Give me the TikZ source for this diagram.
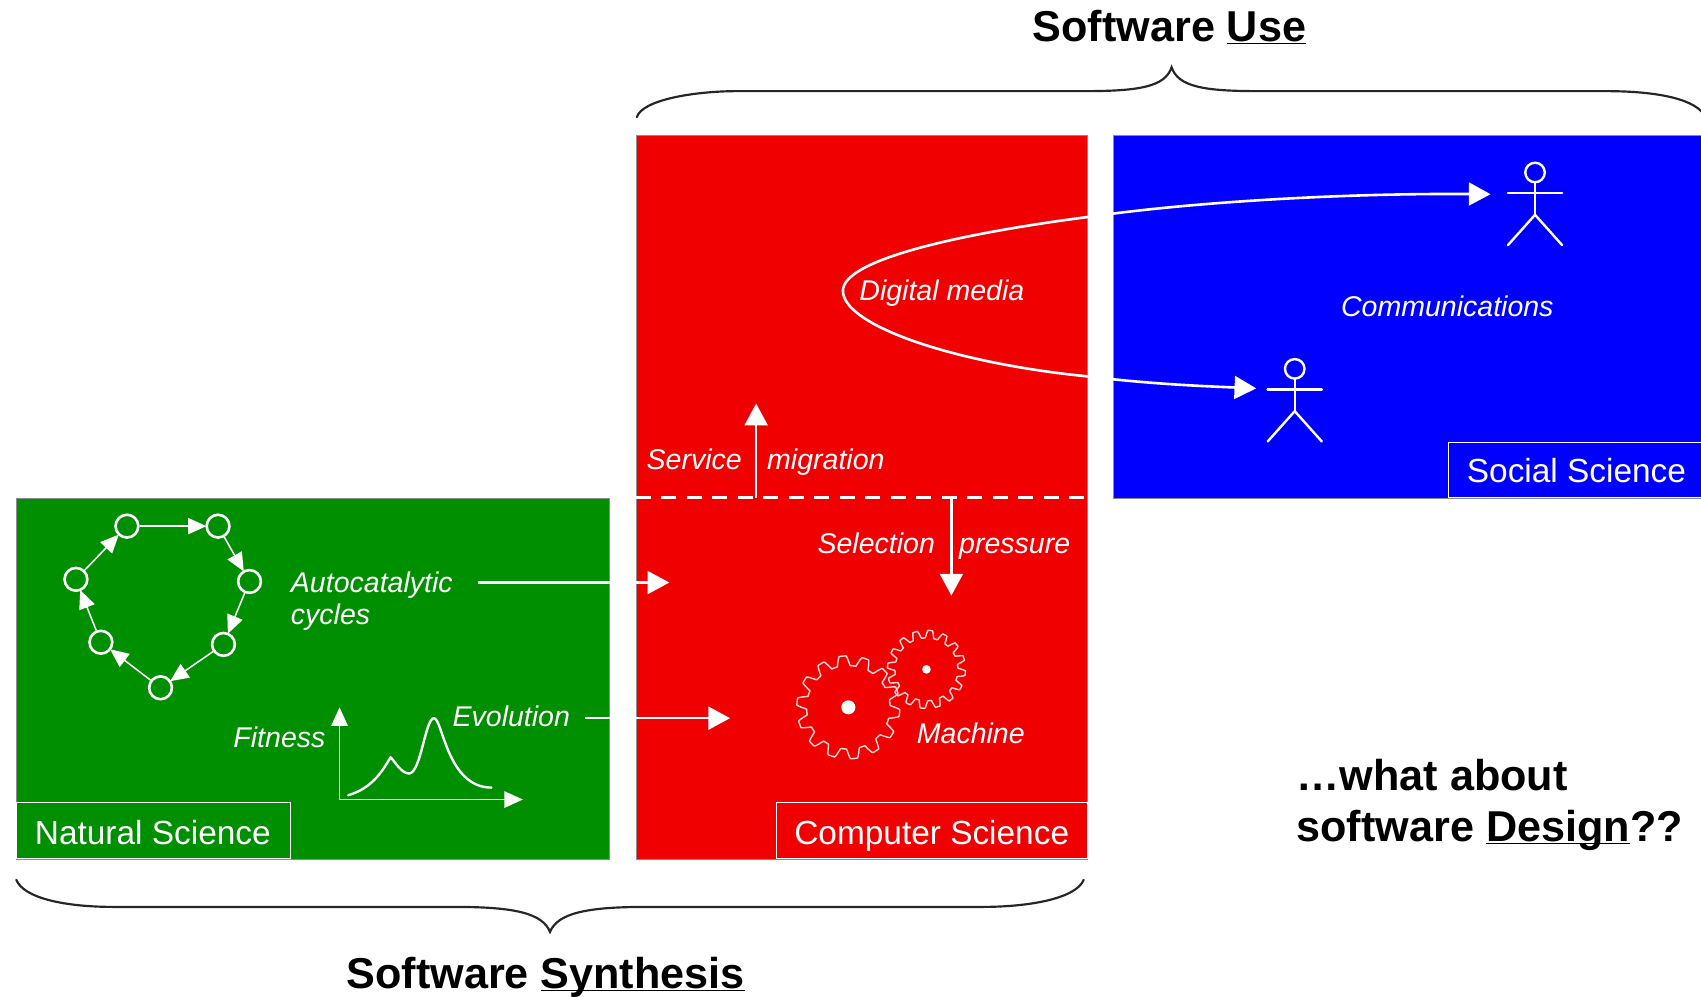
\documentclass[tikz,border=0pt]{standalone}
\usepackage{fontspec}
\setmainfont{Liberation Sans}
\usetikzlibrary{arrows.meta}
\definecolor{natgreen}{RGB}{0,143,0}
\definecolor{comred}{RGB}{240,0,0}
\definecolor{socblue}{RGB}{0,0,255}
\newcommand{\ul}[1]{\underline{\smash{#1}}}
\tikzset{
  panel/.style={rectangle,anchor=north west,inner sep=0pt,draw=black!45,line width=.7pt},
  tagbox/.style={rectangle,inner sep=0pt,draw=white,line width=1pt,text=white,anchor=south west},
  tagtext/.style={text=white,inner sep=0pt,anchor=base west,font=\fontsize{30.8}{34}\selectfont},
  lab/.style={text=white,inner sep=0pt,anchor=base west,font=\fontsize{26.3}{30}\selectfont\itshape},
  head/.style={text=black,inner sep=0pt,anchor=base,font=\fontsize{39.8}{44}\selectfont\bfseries},
  bigarrow/.style={draw=white,line width=2.4pt,-{Triangle[length=20pt,width=21pt,fill=white]}},
  thinarrow/.style={draw=white,line width=1.6pt,-{Triangle[length=17pt,width=15pt,fill=white]}},
  cyc/.style={circle,draw=white,line width=2.4pt,minimum size=21pt,inner sep=0pt},
  cycarrow/.style={draw=white,line width=1.4pt,shorten >=-1pt,-{Triangle[length=17pt,width=15pt,fill=white]}},
  wline/.style={draw=white,line width=2.2pt,line cap=round,line join=round},
  brace/.style={draw=black!85,line width=2pt,line cap=round},
  gearline/.style={draw=white!85!comred,line width=1.3pt,line join=round}
}
\newcommand{\gearshape}[5]{% cx cy radius amplitude teeth
  \draw[gearline] plot[domain=0:360,samples=481] ({#1+(#3+#4*max(-1,min(1,1.8*sin(#5*\x))))*cos(\x)},{#2+(#3+#4*max(-1,min(1,1.8*sin(#5*\x))))*sin(\x)}) -- cycle;
}
\newcommand{\actor}[3]{% name headx heady
  \node[circle,draw=white,line width=2.2pt,minimum size=18pt,inner sep=0pt] (#1head) at (#2,#3) {};
  \coordinate (#1hip) at (#2,#3+39);
  \coordinate (#1la) at (#2-25,#3+19);
  \coordinate (#1ra) at (#2+25,#3+19);
  \coordinate (#1lf) at (#2-25,#3+67);
  \coordinate (#1rf) at (#2+25,#3+67);
  \draw[wline] (#1head) -- (#1hip);
  \draw[wline] (#1la) -- (#1ra);
  \draw[wline] (#1lf) -- (#1hip) -- (#1rf);
}
\begin{document}
\begin{tikzpicture}[x=1pt,y=-1pt]
\useasboundingbox (0,0) rectangle (1568,919);
\clip (0,0) rectangle (1568,919);
\fill[white] (0,0) rectangle (1568,919);
% panels
\node[panel,fill=natgreen,minimum width=546pt,minimum height=333pt] (nat) at (15,459) {};
\node[panel,fill=comred,minimum width=416pt,minimum height=668pt] (com) at (586,124) {};
\node[panel,fill=socblue,minimum width=560pt,minimum height=335pt] (soc) at (1026,124) {};
% tag boxes
\node[tagbox,minimum width=252pt,minimum height=52pt] (natbox) at (15,792) {};
\node[tagbox,minimum width=287pt,minimum height=52pt] (combox) at (715,792) {};
\node[tagbox,minimum width=260pt,minimum height=51pt] (socbox) at (1335,459) {};
\node[tagtext] (natlab) at (32,778) {Natural Science};
\node[tagtext] (comlab) at (732,778) {Computer Science};
\node[tagtext] (soclab) at (1352,445) {Social Science};
% dashed separator
\coordinate (dl) at (586,459);
\coordinate (dr) at (1002,459);
\draw[draw=white,line width=2.8pt,dash pattern=on 14pt off 9.5pt] (dl) -- (dr);
% cycle
\node[cyc] (c1) at (117,485) {};
\node[cyc] (c2) at (201,485) {};
\node[cyc] (c3) at (230,536) {};
\node[cyc] (c4) at (206,594) {};
\node[cyc] (c5) at (148,634) {};
\node[cyc] (c6) at (93,592) {};
\node[cyc] (c7) at (70,534) {};
\draw[cycarrow] (c1) -- (c2);
\draw[cycarrow] (c2) -- (c3);
\draw[cycarrow] (c3) -- (c4);
\draw[cycarrow] (c4) -- (c5);
\draw[cycarrow] (c5) -- (c6);
\draw[cycarrow] (c6) -- (c7);
\draw[cycarrow] (c7) -- (c1);
% labels
\node[lab] (auto) at (268,546) {Autocatalytic};
\node[lab] (cycl) at (268,576) {cycles};
\node[lab] (fit) at (215,689) {Fitness};
\node[lab] (evo) at (417,670) {Evolution};
\node[lab] (mach) at (845,685) {Machine};
\node[lab,anchor=base east] (serv) at (684,433) {Service};
\node[lab] (migr) at (707,433) {migration};
\node[lab,anchor=base east] (sele) at (862,510) {Selection};
\node[lab] (pres) at (884,510) {pressure};
\node[lab] (digi) at (792,277) {Digital media};
\node[lab] (comm) at (1236,292) {Communications};
% fitness plot
\coordinate (org) at (313,737);
\coordinate (yt) at (313,652);
\coordinate (xt) at (482,737);
\draw[thinarrow] (org) -- (yt);
\draw[thinarrow] (org) -- (xt);
\coordinate (fs) at (321,733);
\coordinate (fe) at (453,726);
\draw[wline] (fs) .. controls (342,727) and (352,712) .. (360,698)
  .. controls (364,702) and (370,713) .. (377,713)
  .. controls (388,713) and (392,662) .. (400,662)
  .. controls (408,662) and (412,726) .. (fe);
% horizontal flows
\coordinate (a1) at (441,537);
\coordinate (a2) at (617,537);
\draw[bigarrow] (a1) -- (a2);
\coordinate (e1) at (539,662);
\coordinate (e2) at (673,662);
\draw[bigarrow] (e1) -- (e2);
% service and selection
\coordinate (s1) at (697,459);
\coordinate (s2) at (697,372);
\draw[bigarrow] (s1) -- (s2);
\coordinate (p1) at (877,459);
\coordinate (p2) at (877,549);
\draw[bigarrow] (p1) -- (p2);
% digital media curve
\coordinate (d1) at (1374,179);
\coordinate (d2) at (1158,358);
\draw[draw=white,line width=2.4pt,{Triangle[length=20pt,width=21pt,fill=white]}-{Triangle[length=20pt,width=21pt,fill=white]}]
  (d1) .. controls (1240,178) and (1100,186) .. (1003,200)
  .. controls (880,216) and (777,240) .. (777,268)
  .. controls (777,300) and (880,335) .. (1003,347)
  .. controls (1060,354) and (1110,356) .. (d2);
% actors
\actor{up}{1415}{159}
\actor{lo}{1193.5}{340}
% gears
\gearshape{782}{652}{43}{4.5}{14}
\gearshape{854}{617}{32.5}{3.5}{16}
\node[circle,fill=white,minimum size=13pt,inner sep=0pt] (hub1) at (782,652) {};
\node[circle,fill=white,minimum size=8pt,inner sep=0pt] (hub2) at (854,617) {};
% braces
\coordinate (bt1) at (587,108);
\coordinate (btt) at (1080,62);
\coordinate (bt2) at (1572,108);
\draw[brace] (bt1) .. controls (592,92) and (640,84) .. (680,84) -- (1000,84)
  .. controls (1050,84) and (1074,80) .. (btt)
  .. controls (1086,80) and (1110,84) .. (1160,84) -- (1480,84)
  .. controls (1530,84) and (1565,92) .. (bt2);
\coordinate (bb1) at (15,811);
\coordinate (bbt) at (507,859);
\coordinate (bb2) at (999,811);
\draw[brace] (bb1) .. controls (22,828) and (60,836) .. (105,836) -- (420,836)
  .. controls (475,836) and (500,842) .. (bbt)
  .. controls (514,842) and (540,836) .. (595,836) -- (905,836)
  .. controls (950,836) and (992,828) .. (bb2);
% headings
\node[head] (use) at (1078,38) {Software \ul{Use}};
\node[head] (syn) at (503,911) {Software \ul{Synthesis}};
\node[head,anchor=base west] (wa) at (1195,729) {…what about};
\node[head,anchor=base west] (sd) at (1195,776) {software \ul{Design}??};
\end{tikzpicture}
\end{document}
